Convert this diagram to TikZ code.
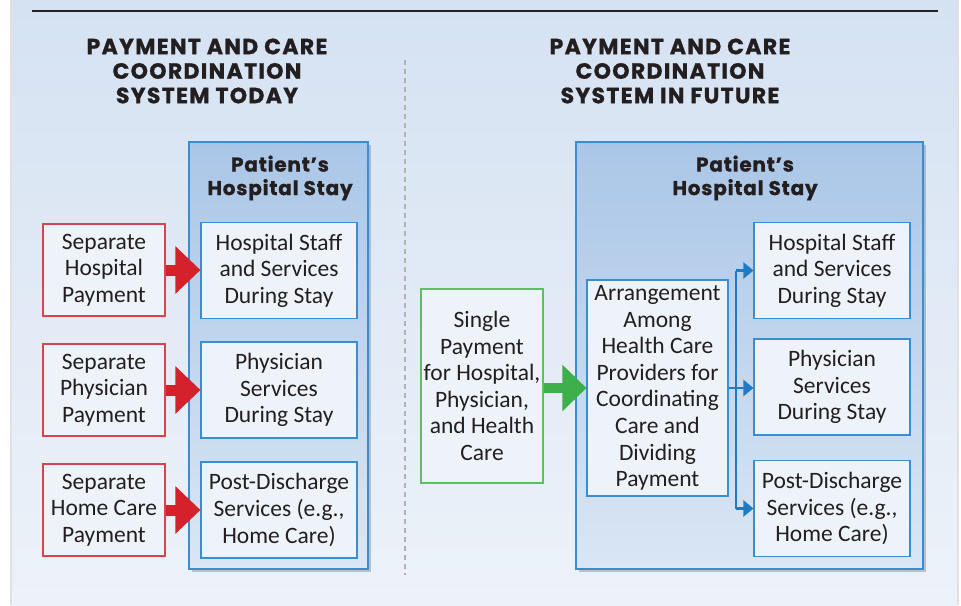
\documentclass[tikz,border=0pt]{standalone}
\usepackage{fontspec}
\setmainfont{Carlito}
\newfontfamily\titlefont{Poppins}
\usetikzlibrary{shadows,arrows.meta}
\definecolor{paneltop}{HTML}{D5E2F2}
\definecolor{panelbot}{HTML}{EDF2F9}
\definecolor{conttop}{HTML}{AAC6E7}
\definecolor{contbot}{HTML}{DAE6F4}
\definecolor{innerfill}{HTML}{EEF3FA}
\definecolor{boxblue}{HTML}{3A8DD0}
\definecolor{redb}{HTML}{D9434B}
\definecolor{reda}{HTML}{D4212B}
\definecolor{greenb}{HTML}{5EBF60}
\definecolor{greena}{HTML}{3CB04A}
\definecolor{connblue}{HTML}{1F7CC4}
\definecolor{txt}{HTML}{231F20}
\tikzset{
  body/.style={font=\fontsize{23.5}{26.6}\selectfont, text=txt, align=center, inner sep=0pt},
  hdr/.style={font=\titlefont\bfseries\addfontfeatures{LetterSpace=4,FakeBold=0.8}\fontsize{20}{23.5}\selectfont, text=txt, align=center, inner sep=0pt},
  ttl/.style={font=\titlefont\bfseries\addfontfeatures{LetterSpace=6,FakeBold=1}\fontsize{22}{24.5}\selectfont, text=txt, align=center, inner sep=0pt},
  container/.style={draw=boxblue, line width=1.2pt, top color=conttop, bottom color=contbot,
     drop shadow={shadow xshift=3pt, shadow yshift=-3pt, opacity=0.35, fill=black!60}},
  innerbox/.style={body, draw=boxblue, line width=1.1pt, fill=innerfill, minimum width=156pt, minimum height=96pt},
  redbox/.style={body, draw=redb, line width=1.1pt, fill=innerfill, minimum width=122pt, minimum height=92pt},
  greenbox/.style={body, draw=greenb, line width=1.1pt, fill=innerfill, minimum width=122pt, minimum height=194pt},
  arrbox/.style={body, draw=boxblue, line width=1.1pt, fill=innerfill, minimum width=141pt, minimum height=216pt},
  redarrow/.style={draw=reda, line width=11pt, -{Triangle[width=46pt,length=25pt]}},
  greenarrow/.style={draw=greena, line width=10pt, -{Triangle[width=45pt,length=24pt]}},
  bluearrow/.style={draw=connblue, line width=2.4pt, -{Triangle[width=16pt,length=10pt]}},
}
\begin{document}
\begin{tikzpicture}[x=1pt,y=-1pt]
\useasboundingbox (0,0) rectangle (961,605);
\fill[white] (0,0) rectangle (961,605);
\fill[black!12] (10,0) rectangle (959,605);
\shade[top color=paneltop, bottom color=panelbot] (12,0) rectangle (957,605);
\draw[line width=1.2pt, txt] (32,11) -- (938,11);
\draw[black!30, line width=1.6pt, dash pattern=on 5pt off 4pt] (405,60) -- (405,575);

\node[ttl] (tl) at (207,71) {PAYMENT AND CARE\\COORDINATION\\SYSTEM TODAY};
\node[ttl] (tr) at (670,71) {PAYMENT AND CARE\\COORDINATION\\SYSTEM IN FUTURE};

% left side
\node[container, minimum width=179pt, minimum height=427pt, inner sep=0pt] (lc) at (278.5,355.5) {};
\node[hdr] (lh) at (280,178) {Patient’s\\Hospital Stay};
\node[innerbox] (l1) at (279,270.5) {Hospital Staff\\and Services\\During Stay};
\node[innerbox] (l2) at (279,390) {Physician\\Services\\During Stay};
\node[innerbox] (l3) at (279,510) {Post-Discharge\\Services (e.g.,\\Home Care)};
\node[redbox] (r1) at (104,270) {Separate\\Hospital\\Payment};
\node[redbox] (r2) at (104,390) {Separate\\Physician\\Payment};
\node[redbox] (r3) at (104,510) {Separate\\Home Care\\Payment};
\draw[redarrow] (r1.east) -- (l1.west |- r1.east);
\draw[redarrow] (r2.east) -- (l2.west |- r2.east);
\draw[redarrow] (r3.east) -- (l3.west |- r3.east);

% right side
\node[container, minimum width=347pt, minimum height=427pt, inner sep=0pt] (rc) at (749.5,355.5) {};
\node[hdr] (rh) at (745,178) {Patient’s\\Hospital Stay};
\node[greenbox] (g) at (482,386) {Single\\Payment\\for Hospital,\\Physician,\\and Health\\Care};
\node[arrbox] (ar) at (657.5,388) {Arrangement\\Among\\Health Care\\Providers for\\Coordinating\\Care and\\Dividing\\Payment};
\node[innerbox] (b1) at (832,270.5) {Hospital Staff\\and Services\\During Stay};
\node[innerbox] (b2) at (832,387) {Physician\\Services\\During Stay};
\node[innerbox] (b3) at (832,508.5) {Post-Discharge\\Services (e.g.,\\Home Care)};
\draw[greenarrow] (g.east |- ar.west) -- (ar.west);
\coordinate (sp) at (736,388);
\draw[connblue, line width=2.4pt] (sp |- b1.west) -- (sp |- b3.west);
\draw[bluearrow] (ar.east) -- (b2.west |- ar.east);
\draw[bluearrow] (sp |- b1.west) -- (b1.west);
\draw[bluearrow] (sp |- b3.west) -- (b3.west);
\end{tikzpicture}
\end{document}
